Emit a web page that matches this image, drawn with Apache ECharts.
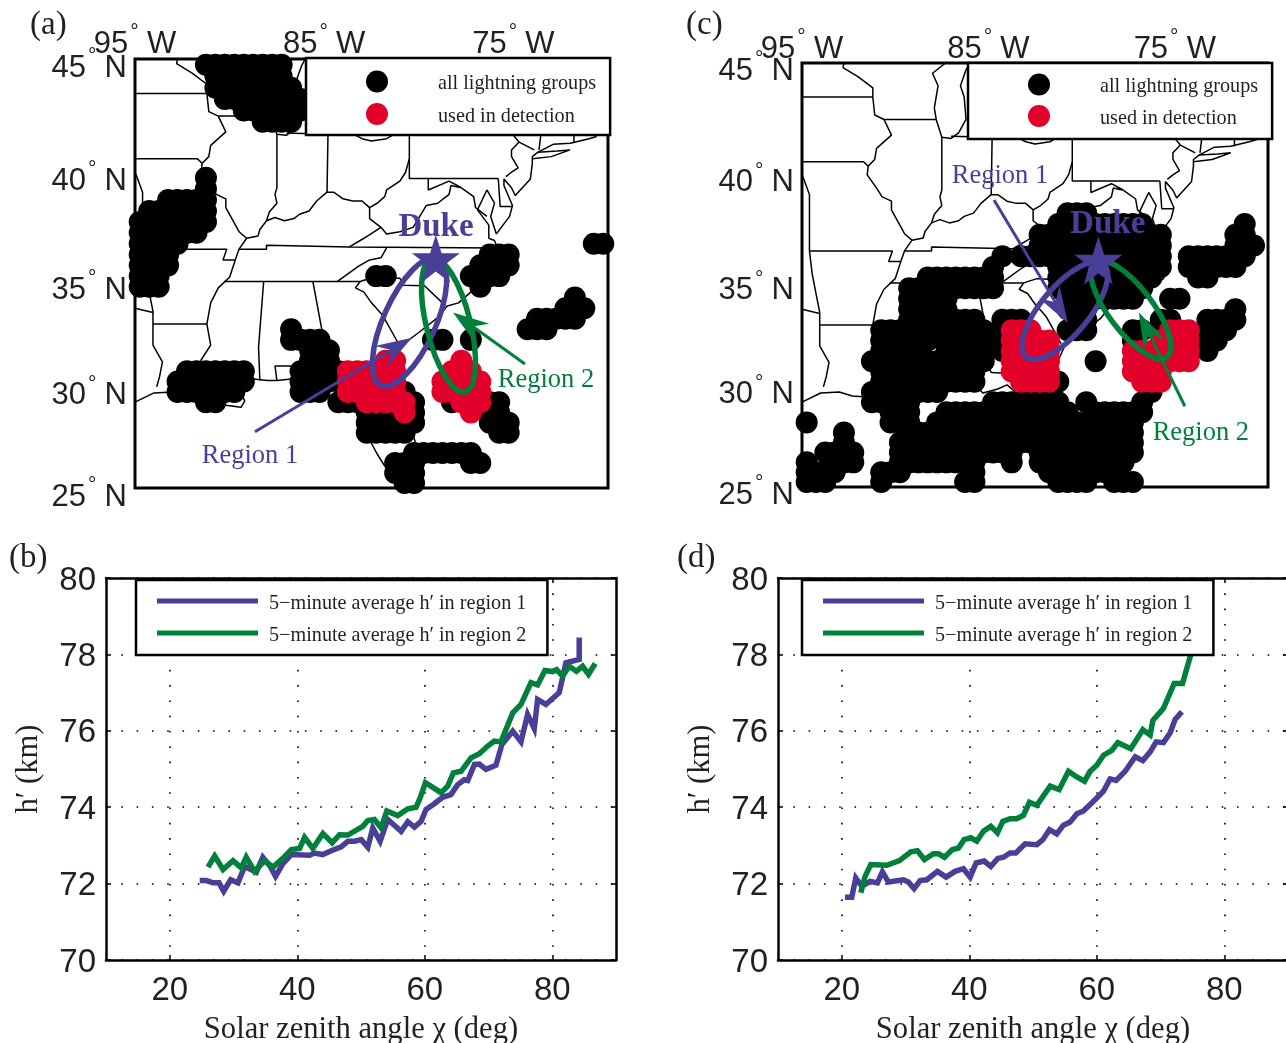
<!DOCTYPE html>
<html><head><meta charset="utf-8"><style>html,body{margin:0;padding:0;background:#fff}#c{width:1286px;height:1043px}</style>
<script src="https://cdn.jsdelivr.net/npm/echarts@6/dist/echarts.min.js"></script></head><body><div id="c"></div>
<script>
const PURPLE='#4a3f97',GREEN='#00803a',RED='#e2002a',INK='#231f20';
const SERIF='"Liberation Serif",serif',SANS='"Liberation Sans",sans-serif';
// tick labels
const lonTicks=[-95,-85,-75];
const latTicks=[25,30,35,40,45];
const szaTicks=[20,40,60,80];
const hTicks=[70,72,74,76,78,80];
const panelLetters=['(a)','(b)','(c)','(d)'];
// state and coast outlines [lon,lat]
const outlines=[
[[-95,29.25],[-94,29.7],[-93,29.75],[-92.3,29.55],[-91.5,29.5],[-91,29.2],[-90.2,29.1],[-89.4,29],[-89.2,29.3],[-89.6,30.2],[-89,30.4],[-88,30.3],[-87.5,30.3],[-86.5,30.4],[-85.7,30.1],[-85.3,29.7],[-84.5,29.9],[-84,30.1],[-83.5,29.7],[-83,29.1],[-82.7,28.5],[-82.8,27.9],[-82.6,27.4],[-82.2,26.7],[-81.8,26.1],[-81.2,25.4],[-80.9,25.15],[-80.4,25.2],[-80.1,25.8],[-80,26.8],[-80.6,28.4],[-81.2,29.6],[-81.4,30.4],[-81.3,31.2],[-80.9,32],[-80,32.6],[-79,33.3],[-78.5,33.85],[-77.9,34],[-77,34.7],[-76.5,34.7],[-75.6,35.2],[-75.5,35.8],[-76,36.9],[-76.3,37],[-76.3,37.6],[-76.9,38.3],[-76.4,39.2],[-76,38.6],[-76.2,38],[-75.9,37.2],[-75.2,38],[-75.05,38.5],[-75.5,39.4],[-75.5,39.7],[-75.1,39.3],[-74.9,38.95],[-74.1,39.7],[-74,40.4],[-74,40.7],[-73.7,40.9],[-72.9,41.25],[-72,41.3],[-71.5,41.4],[-71,41.5],[-70.6,41.6]],
[[-74,40.6],[-73,40.7],[-72,41],[-72.7,40.95],[-73.7,40.9]],
[[-92.75,45],[-92.8,44.8],[-92,44.4],[-91.2,43.9],[-91.2,43.5],[-91.1,42.7],[-90.6,42.5],[-90.2,41.8],[-91,41.2],[-91.1,40.7],[-91.45,40.4],[-91.5,40],[-91,39.4],[-90.7,39],[-90.2,38.8],[-90.2,38.4],[-89.5,37.3],[-89.1,37],[-89.5,36.5],[-89.7,36],[-90,35.2],[-90.6,34.7],[-91,34],[-91.2,33],[-91.1,32.5],[-91,32],[-91.5,31.3],[-91.6,31]],
[[-95,43.5],[-91.2,43.5]],
[[-95,40.6],[-91.7,40.6],[-91.45,40.4]],
[[-90.6,42.5],[-87.8,42.5]],
[[-87.3,45],[-88,44.55],[-87.7,44],[-87.9,43],[-87.8,42.5],[-87.5,41.7],[-87,41.65],[-86.6,41.9],[-86.2,42.5],[-86.3,43.5],[-86.5,44],[-86.2,44.7],[-86,45]],
[[-87.5,41.7],[-87.5,39.3],[-87.6,39],[-87.5,38.6],[-87.9,38.2],[-88.05,37.8]],
[[-88.05,37.8],[-88.4,37.4],[-88.5,37.1],[-89.1,37]],
[[-88.05,37.8],[-87.6,37.95],[-87.1,37.8],[-86.6,37.9],[-86.3,38.1],[-85.8,38.25],[-85.4,38.7],[-84.85,39.1],[-84.5,39.1],[-84,38.8],[-83.5,38.7],[-83,38.7],[-82.6,38.4]],
[[-84.8,41.7],[-84.85,39.1]],
[[-87,41.75],[-84.8,41.7],[-83.45,41.73]],
[[-83.45,41.7],[-83,41.5],[-82.5,41.4],[-81.7,41.5],[-81,41.85],[-80.5,42],[-79.8,42.25],[-79,42.7],[-78.9,42.9]],
[[-80.5,42],[-80.5,40.6],[-80.7,40],[-81,39.6],[-81.7,39.2],[-81.8,38.9],[-82.2,38.6],[-82.6,38.4],[-82.6,37.9],[-82,37.5],[-82.9,37],[-83.67,36.6]],
[[-80.5,40.6],[-80.5,39.72],[-75.8,39.72]],
[[-79.5,39.72],[-79.5,39.2],[-78.4,39.6],[-77.75,39.3],[-78.3,39.4],[-78.4,39],[-79,38.6],[-79.6,38.5],[-80.3,37.5],[-81,37.3],[-81.7,37.2],[-82,37.5]],
[[-77.75,39.3],[-77.1,38.9],[-77,38.4],[-76.4,38]],
[[-75.8,39.72],[-75.7,38.45],[-75.05,38.45]],
[[-75.4,39.8],[-75.1,40],[-74.75,40.2],[-75.1,40.7],[-75.1,41],[-74.7,41.35],[-73.9,41]],
[[-79.76,42.27],[-79.76,42],[-75.35,42],[-74.7,41.35]],
[[-73.65,41],[-73.5,42]],
[[-71.8,41.3],[-71.8,42]],
[[-89.5,36.5],[-88.05,36.5],[-88.05,36.68],[-83.67,36.6],[-81.68,36.59],[-75.9,36.55]],
[[-81.68,36.59],[-82,36.1],[-82.6,36],[-83.2,35.7],[-84.3,35]],
[[-90.3,35],[-83.1,35],[-82.4,35.2],[-81,35.15],[-80.8,34.82],[-79.7,34.8],[-78.6,33.87]],
[[-83.1,35],[-83.35,34.7],[-82.9,34.5],[-82.5,34],[-81.9,33.4],[-81.4,32.6],[-81.1,32.1]],
[[-81.5,30.7],[-82,30.4],[-82.2,30.57],[-84.85,30.7]],
[[-85.6,35],[-85.15,32.85],[-85,32.3],[-85,31],[-84.85,30.7]],
[[-85,31],[-87.6,31],[-87.5,30.3]],
[[-88.2,35],[-88.47,31.9],[-88.4,30.3]],
[[-91.6,31],[-89.75,31],[-89.6,30.2]],
[[-94.05,33],[-91.2,33]],
[[-94.6,36.5],[-90.15,36.5],[-90.35,36],[-89.7,36]],
[[-95,40],[-94.9,39.8],[-94.6,39.1],[-94.6,36.5],[-94.45,35.4],[-94.05,33.6],[-94.05,32],[-93.55,31.2],[-93.7,30.5],[-93.85,30]],
[[-95,33.75],[-94.05,33.55]]
];
// lightning cells: [lat, [lonFrom, lonTo], ...] on a half-degree grid
const blackCellsA=[
[44.75,[-91.25,-87.25]],[44.25,[-90.75,-87.25]],[43.75,[-90.75,-86.75]],[43.25,[-90.25,-85.75]],[42.75,[-89.25,-85.75]],[42.25,[-88.25,-86.75]],
[39.75,[-91.25,-91.25]],[39.25,[-91.25,-91.25]],[38.75,[-93.25,-91.25]],[38.25,[-94.25,-91.25]],[37.75,[-94.75,-91.25]],[37.25,[-94.75,-91.75]],[36.75,[-94.75,-92.75]],[36.25,[-94.75,-93.25]],[35.75,[-94.75,-93.25]],[35.25,[-94.75,-93.75],[-82.25,-81.75],[-77.25,-75.75]],[34.75,[-94.75,-93.75],[-76.75,-76.75]],
[36.75,[-70.75,-70.25]],[36.25,[-76.25,-75.25]],[35.75,[-76.75,-75.25]],
[34.25,[-71.75,-71.75]],[33.75,[-72.25,-71.25]],[33.25,[-73.75,-71.75]],[32.75,[-86.75,-86.75],[-74.25,-73.25]],
[32.25,[-86.75,-85.25],[-79.25,-78.75],[-77.25,-77.25]],[31.75,[-85.75,-84.75]],[31.25,[-85.75,-84.75]],
[30.75,[-92.25,-89.25],[-86.25,-84.25]],[30.25,[-92.75,-89.25],[-86.25,-84.25]],[29.75,[-92.75,-89.75],[-86.25,-85.25],[-80.75,-80.75]],
[29.25,[-91.25,-90.75],[-84.25,-80.25],[-78.25,-78.25],[-76.25,-75.75]],[28.75,[-82.75,-80.25],[-76.25,-75.75]],[28.25,[-82.75,-80.25],[-76.25,-75.25]],[27.75,[-82.75,-80.75],[-75.75,-75.25]],
[26.75,[-80.25,-77.25]],[26.25,[-81.25,-80.25],[-77.25,-76.75]],[25.75,[-81.25,-80.25]],[25.25,[-80.75,-80.25]]
];
const redCellsA=[
[31.25,[-81.75,-81.25],[-77.75,-77.75]],[30.75,[-83.75,-81.25],[-78.25,-77.25]],[30.25,[-83.75,-81.25],[-78.75,-76.75]],[29.75,[-83.75,-81.25],[-78.75,-76.75]],[29.25,[-82.75,-80.75],[-77.75,-76.75]],[28.75,[-80.75,-80.75],[-77.25,-77.25]]
];
const blackCellsC=[
[38.25,[-80.75,-79.75]],[37.75,[-81.25,-76.75],[-71.25,-71.25]],[37.25,[-82.25,-75.75],[-71.75,-71.25]],[36.75,[-82.25,-75.75],[-71.75,-70.75]],
[36.25,[-84.25,-84.25],[-83.25,-75.75],[-74.25,-71.25]],[35.75,[-84.75,-84.75],[-81.25,-75.75],[-74.25,-71.75]],[35.25,[-88.25,-84.75],[-81.25,-76.25],[-73.75,-73.25]],
[34.75,[-89.25,-84.75],[-81.25,-76.75]],[34.25,[-89.25,-87.25],[-80.75,-77.25],[-75.25,-74.75]],[33.75,[-89.25,-87.25],[-80.75,-79.75],[-71.75,-71.75]],
[33.25,[-89.25,-85.75],[-84.25,-83.25],[-80.25,-79.75],[-75.75,-75.25],[-73.25,-71.75]],[32.75,[-90.75,-85.25],[-84.25,-84.25],[-80.75,-79.75],[-77.25,-76.75],[-73.25,-72.25]],
[32.25,[-90.75,-88.25],[-87.25,-85.25],[-84.25,-84.25],[-77.25,-77.25],[-73.25,-72.75]],[31.75,[-90.75,-88.75],[-87.25,-85.25],[-84.25,-84.25],[-73.25,-73.25]],
[31.25,[-91.25,-85.25],[-79.25,-79.25]],[30.75,[-90.75,-85.75]],[30.25,[-90.75,-85.75],[-81.25,-81.25],[-76.25,-76.25]],[29.75,[-91.25,-87.75],[-76.25,-76.25]],
[29.25,[-91.25,-89.25],[-84.75,-81.25],[-79.75,-79.75],[-76.75,-76.75]],[28.75,[-90.25,-89.25],[-87.25,-80.75],[-79.25,-76.75]],[28.25,[-94.75,-94.75],[-90.25,-89.25],[-87.75,-77.25]],
[27.75,[-92.75,-92.75],[-88.75,-77.25]],[27.25,[-92.75,-92.75],[-89.75,-77.25]],[26.75,[-93.75,-92.25],[-89.75,-83.75],[-82.25,-77.25]],
[26.25,[-94.75,-94.75],[-93.25,-92.25],[-89.75,-85.75],[-83.75,-83.75],[-82.25,-77.75]],[25.75,[-94.75,-93.25],[-90.75,-89.75],[-85.75,-85.75],[-81.75,-78.25]],[25.25,[-94.75,-93.75],[-90.75,-90.75],[-86.25,-85.75],[-81.25,-79.75],[-78.25,-77.25]]
];
const redCellsC=[
[32.75,[-83.75,-82.75],[-75.25,-74.25]],[32.25,[-83.75,-81.75],[-75.75,-74.25]],[31.75,[-83.75,-81.75],[-77.25,-74.25]],[31.25,[-83.75,-81.75],[-77.25,-74.25]],[30.75,[-83.75,-81.75],[-77.25,-75.75]],[30.25,[-83.25,-81.75],[-76.75,-75.75]]
];
// annotations [lon,lat]
const duke=[-79.1,36.05];
const dukeLabelA=[-79.09,37.5],dukeLabelC=[-78.6,37.75];
const region1LabelA=[-88.92,26.62],region2LabelA=[-73.28,30.33],region1LabelC=[-84.38,39.95],region2LabelC=[-73.6,27.72];
const arrow1A=[[-88.66,27.8],[-80.36,32.35]],arrow2A=[[-74.39,31.1],[-78.19,33.55]];
const arrow1C=[[-84.7,38.85],[-80.74,33.1]],arrow2C=[[-74.46,29.05],[-76.93,33.6]];
const ellipse1A=[[-78.98,36.07],[-82,30.07]],ellipse2A=[[-79.3,36.07],[-77.56,29.75]];
const ellipse1C=[[-78.83,35.87],[-82.97,31.46]],ellipse2C=[[-79.29,35.97],[-75.43,31.46]];
// h' series [solar zenith angle, km]
const h1B=[[24.7,72.08],[25.74,72.08],[26.8,72.02],[27.73,72.02],[28.46,71.8],[29.56,72.1],[30.7,72.02],[31.75,72.45],[33.58,72.3],[34.6,72.69],[35.77,72.45],[36.6,72.19],[37.75,72.52],[39.06,72.76],[41.93,72.74],[42.7,72.8],[44,72.76],[45.33,72.86],[46.9,72.96],[47.94,73.11],[48.98,73.11],[50.03,73.15],[51.07,72.95],[51.85,73.46],[53,73.11],[54.2,73.68],[56.3,73.37],[57.34,73.62],[58.38,73.48],[59.43,73.63],[60.2,73.94],[61.5,74.09],[62.8,74.26],[64.1,74.33],[65.17,74.59],[66.2,74.72],[66.74,74.7],[67.8,75.12],[68.56,75.13],[69.6,74.99],[71.17,75.1],[72.1,75.64],[73.8,75.99],[75.1,75.71],[76.13,76.43],[77.18,76.06],[77.7,76.82],[79,76.69],[81.1,77],[82.14,77.78],[84.23,77.87],[84.23,78.44]];
const h2B=[[26,72.43],[27.05,72.72],[28.36,72.37],[29.92,72.6],[31.23,72.41],[32,72.69],[33.3,72.32],[34.88,72.6],[36.2,72.43],[37.75,72.66],[39.06,72.89],[40.37,72.92],[41.15,73.21],[42.45,72.92],[44.02,73.31],[45.48,73.07],[46.63,73.28],[47.94,73.27],[50.29,73.5],[51.07,73.65],[52.1,73.68],[53.16,73.46],[54.05,73.9],[55.77,73.78],[57.34,73.96],[58.64,74],[59.27,74.24],[60.1,74.64],[62.56,74.38],[63.6,74.55],[64.49,74.9],[65.69,74.94],[67.26,75.29],[68.56,75.4],[69.87,75.6],[70.9,75.73],[71.96,75.71],[73.8,76.47],[75.1,76.69],[76.66,77.26],[77.7,77.2],[78.85,77.58],[80.05,77.55],[80.68,77.6],[81.62,77.43],[82.66,77.69],[83.81,77.56],[84.75,77.69],[85.69,77.48],[86.74,77.76]];
const h1D=[[20.52,71.64],[21.57,71.64],[22.2,72.15],[23.14,71.93],[24.45,72.06],[25.6,72.02],[26.38,72.31],[27.32,72.04],[29.68,72.1],[30.46,72.04],[31.35,71.87],[32.29,72.08],[33.34,72.1],[35.01,72.32],[36.37,72.17],[37.78,72.32],[39.09,72.39],[40.14,72.17],[41.08,72.54],[42.33,72.59],[43.38,72.45],[44.48,72.66],[45.37,72.69],[46.41,72.8],[47.3,72.8],[48.77,73.04],[50.6,73.02],[51.54,73.15],[52.58,73.41],[53.73,73.3],[54.78,73.53],[55.83,73.61],[56.87,73.83],[57.92,73.9],[60.01,74.24],[61.06,74.42],[62.1,74.74],[63.04,74.7],[64.46,74.94],[66.03,75.32],[67.23,75.22],[68.38,75.45],[69.32,75.71],[70.47,75.69],[71.52,75.95],[72.3,76.3],[73.35,76.5]];
const h2D=[[22.98,71.76],[23.66,72.19],[24.55,72.5],[27.06,72.48],[29.05,72.6],[30.83,72.83],[31.87,72.86],[32.97,72.63],[34.38,72.78],[35.17,72.78],[36.11,72.69],[37.36,72.89],[38.31,72.93],[39.19,73.15],[40.24,73.2],[41.18,73.11],[42.23,73.37],[43.38,73.5],[44.42,73.33],[45.26,73.63],[46.41,73.7],[47.46,73.7],[48.5,73.79],[49.44,74.13],[50.6,74.05],[52.69,74.55],[54.1,74.46],[55.56,74.94],[56.87,74.79],[58.08,74.68],[58.96,74.94],[60.01,75.1],[61.06,75.36],[62.36,75.49],[63.31,75.69],[65.34,75.53],[67.23,76.03],[68.38,75.89],[68.8,76.27],[70.47,76.59],[72.14,77.24],[73.45,77.24],[74.76,78],[75.96,78.61]];
const NAME_ALL='all lightning groups',NAME_USED='used in detection';
const NAME_R1='5\u2212minute average h\u2032 in region 1',NAME_R2='5\u2212minute average h\u2032 in region 2';

// map's north-south projection: degrees latitude -> map northing
const proj=lat=>19.9*(lat-25)+0.08*(lat-25)*(lat-25);
const P=([lon,lat])=>[lon,proj(lat)];
const cells=rows=>{const out=[];rows.forEach(([lat,...runs])=>runs.forEach(([a,b])=>{for(let l=a;l<=b+1e-6;l+=0.5)out.push(P([l,lat]));}));return out;};
const deg=(n,u)=>`{n|${n}}{d|\u00b0}{n|\u2009${u}}`;
const richDeg={n:{fontFamily:SANS,fontSize:31,color:INK},d:{fontFamily:SANS,fontSize:21,color:INK,verticalAlign:'top',padding:[0,2,24,2]}};

const xAxis=[],yAxis=[],grid=[],series=[],legend=[],title=[];
function mapPanel(g,box,cfg){
 grid.push({left:box[0],top:box[1],width:box[2],height:box[3],show:true,outerBoundsMode:'none',borderColor:'#000',borderWidth:3,backgroundColor:'transparent'});
 xAxis.push({gridIndex:g,type:'value',position:'top',min:-95,max:-70,axisLine:{show:false},axisTick:{show:false},splitLine:{show:false},
  axisLabel:{customValues:lonTicks,margin:cfg.topMargin,formatter:v=>deg(Math.abs(v),'W'),rich:richDeg}});
 yAxis.push({gridIndex:g,type:'value',min:0,max:proj(45),axisLine:{show:false},axisTick:{show:false},splitLine:{show:false},
  axisLabel:{customValues:latTicks.map(proj),margin:8,padding:[cfg.labelShift,0,0,0],formatter:v=>deg(latTicks.find(t=>Math.abs(proj(t)-v)<1e-3),'N'),rich:richDeg}});
 const base={xAxisIndex:g,yAxisIndex:g};
 outlines.forEach(o=>series.push({...base,type:'line',data:o.map(P),symbol:'none',silent:true,z:1,lineStyle:{color:'#000',width:1.5},clip:true}));
 series.push({...base,type:'scatter',name:NAME_ALL,data:cells(cfg.black),symbol:'circle',symbolSize:22,itemStyle:{color:'#000',opacity:1},z:2,clip:false});
 series.push({...base,type:'scatter',name:NAME_USED,data:cells(cfg.red),symbol:'circle',symbolSize:22,itemStyle:{color:RED,opacity:1},z:2.1,clip:false});
 [[cfg.e1,PURPLE,cfg.ry[0]],[cfg.e2,GREEN,cfg.ry[1]]].forEach(([e,c,ry])=>series.push({...base,type:'custom',z:3,clip:false,
  data:[[...P(e[0]),...P(e[1])]],encode:{x:[0,2],y:[1,3]},
  renderItem:(p,api)=>{const a=api.coord([api.value(0),api.value(1)]),b=api.coord([api.value(2),api.value(3)]);
   const dx=b[0]-a[0],dy=b[1]-a[1];
   return {type:'ellipse',x:(a[0]+b[0])/2,y:(a[1]+b[1])/2,rotation:-Math.atan2(dy,dx),shape:{cx:0,cy:0,rx:Math.hypot(dx,dy)/2,ry},style:{fill:null,stroke:c,lineWidth:5.5}};}}));
 [[cfg.a1,PURPLE],[cfg.a2,GREEN]].forEach(([a,c])=>series.push({...base,type:'custom',z:3.1,clip:false,
  data:[[...P(a[0]),...P(a[1])]],encode:{x:[0,2],y:[1,3]},
  renderItem:(p,api)=>{const s=api.coord([api.value(0),api.value(1)]),t=api.coord([api.value(2),api.value(3)]);
   const L=Math.hypot(t[0]-s[0],t[1]-s[1]),ux=(t[0]-s[0])/L,uy=(t[1]-s[1])/L,px=-uy,py=ux;
   const at=(back,side)=>[t[0]-ux*back+px*side,t[1]-uy*back+py*side];
   return {type:'group',children:[
    {type:'line',shape:{x1:s[0],y1:s[1],x2:at(20,0)[0],y2:at(20,0)[1]},style:{stroke:c,lineWidth:3}},
    {type:'polygon',shape:{points:[at(0,0),at(36,12),at(24,0),at(36,-12)]},style:{fill:c}}]};}}));
 series.push({...base,type:'scatter',data:[P(duke)],symbol:'path://M50 0 L61.8 35.4 L98.9 35.4 L68.9 57.3 L79.4 92.7 L50 70.8 L20.6 92.7 L31.1 57.3 L1.1 35.4 L38.2 35.4 Z',symbolSize:48,itemStyle:{color:PURPLE,opacity:1},z:3.2,clip:false});
 const lab=(pos,text,color,size,weight)=>series.push({...base,type:'scatter',data:[P(pos)],symbolSize:0,z:3.3,clip:false,silent:true,itemStyle:{opacity:1},
   label:{show:true,position:'inside',formatter:text,color,fontFamily:SERIF,fontSize:size,fontWeight:weight||'normal'}});
 lab(cfg.duke,'Duke',PURPLE,33,'bold');lab(cfg.l1,'Region 1',PURPLE,26.5);lab(cfg.l2,'Region 2',GREEN,26.5);
 legend.push({left:cfg.lg[0],top:cfg.lg[1],orient:'vertical',selectedMode:false,data:[NAME_ALL,NAME_USED],icon:'circle',itemWidth:22,itemHeight:22,itemGap:cfg.lg[2],
  padding:[cfg.lg[3],14,cfg.lg[4],60],backgroundColor:'#fff',borderColor:'#000',borderWidth:2.5,align:'left',formatter:'{t|{name}}',
  textStyle:{rich:{t:{fontFamily:SERIF,fontSize:20.2,color:INK,padding:[5,0,0,45]}}}});
}
function linePanel(g,box,lgLeft,r1,r2){
 grid.push({left:box[0],top:box[1],width:box[2],height:box[3],show:false,outerBoundsMode:'none'});
 const x=xAxis.length,y=yAxis.length;
 const dots={show:true,lineStyle:{type:[1.6,13.7],color:'#000',width:1.6}};
 const tick={show:true,inside:true,length:5,lineStyle:{color:'#000',width:1.5}};
 xAxis.push({gridIndex:g,type:'value',position:'bottom',min:10,max:90,axisLine:{show:true,lineStyle:{color:'#000',width:2.5}},
  axisTick:{...tick,customValues:szaTicks},splitLine:dots,axisLabel:{customValues:szaTicks,margin:14,fontFamily:SANS,fontSize:33,color:INK},
  name:'Solar zenith angle \u03c7 (deg)',nameLocation:'middle',nameGap:54,nameTextStyle:{fontFamily:SERIF,fontSize:30.6,color:INK}});
 xAxis.push({gridIndex:g,type:'value',position:'top',min:10,max:90,axisLine:{show:true,lineStyle:{color:'#000',width:2.5}},axisTick:{...tick,customValues:szaTicks},axisLabel:{show:false},splitLine:{show:false}});
 yAxis.push({gridIndex:g,type:'value',position:'left',min:70,max:80,interval:2,axisLine:{show:true,lineStyle:{color:'#000',width:2.5}},
  axisTick:tick,splitLine:dots,axisLabel:{margin:10,padding:[5,0,0,0],formatter:v=>`{n|${v}}`,rich:{n:{fontFamily:SANS,fontSize:33,color:INK}}},
  name:'h\u2032 (km)',nameLocation:'middle',nameGap:62,nameTextStyle:{fontFamily:SERIF,fontSize:30.6,color:INK}});
 yAxis.push({gridIndex:g,type:'value',position:'right',min:70,max:80,interval:2,axisLine:{show:true,lineStyle:{color:'#000',width:2.5}},axisTick:tick,axisLabel:{show:false},splitLine:{show:false}});
 [[NAME_R1,r1,PURPLE],[NAME_R2,r2,GREEN]].forEach(([n,d,c])=>series.push({type:'line',name:n,xAxisIndex:x,yAxisIndex:y,data:d,symbol:'none',z:2,clip:true,
   lineStyle:{color:c,width:5.5,join:'miter'},itemStyle:{color:c}}));
 legend.push({left:lgLeft,top:580,orient:'vertical',selectedMode:false,data:[NAME_R1,NAME_R2],icon:'rect',itemWidth:101,itemHeight:5,itemGap:12,
  padding:[14,21,9,21],backgroundColor:'#fff',borderColor:'#000',borderWidth:2.5,align:'left',formatter:'{t|{name}}',
  textStyle:{rich:{t:{fontFamily:SERIF,fontSize:20.2,color:INK,padding:[6,0,0,6]}}}});
}
mapPanel(0,[135,59,473,429],{labelShift:18,topMargin:-8,ry:[26,22],black:blackCellsA,red:redCellsA,e1:ellipse1A,e2:ellipse2A,a1:arrow1A,a2:arrow2A,duke:dukeLabelA,l1:region1LabelA,l2:region2LabelA,lg:[306,58,9,12.5,8.5]});
mapPanel(1,[802,63,466,424],{labelShift:16,topMargin:-9,ry:[24,22],black:blackCellsC,red:redCellsC,e1:ellipse1C,e2:ellipse2C,a1:arrow1C,a2:arrow2C,duke:dukeLabelC,l1:region1LabelC,l2:region2LabelC,lg:[968,63,8,10.5,10.5]});
linePanel(2,[106,578,510,382],136,h1B,h2B);
linePanel(3,[778,578,510,382],802,h1D,h2D);
[[30,9],[9,542],[686,9],[677,542]].forEach((p,i)=>title.push({text:panelLetters[i],left:p[0],top:p[1],padding:0,textStyle:{fontFamily:SERIF,fontSize:33,fontWeight:'normal',color:INK}}));
const chart=echarts.init(document.getElementById('c'),null,{renderer:'canvas'});
chart.setOption({animation:false,backgroundColor:'#fff',title,grid,xAxis,yAxis,legend,series,tooltip:{show:false}});
</script></body></html>
